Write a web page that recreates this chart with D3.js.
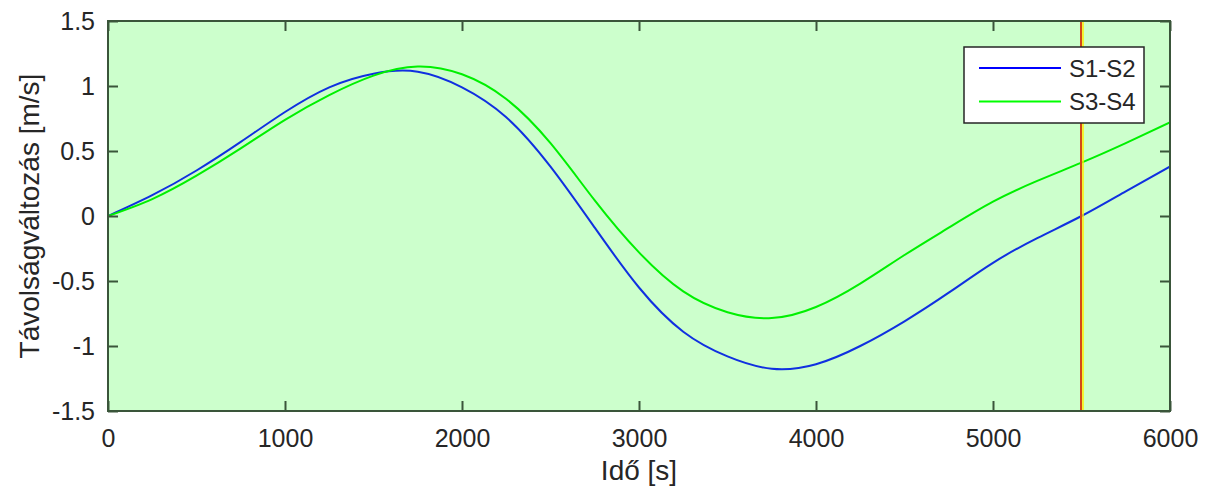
<!DOCTYPE html>
<html lang="hu">
<head>
<meta charset="UTF-8">
<title>Távolságváltozás</title>
<script src="https://cdnjs.cloudflare.com/ajax/libs/d3/7.8.5/d3.min.js"></script>
<style>
    body { margin: 0; background: #fff; }
    svg text { font-family: "Liberation Sans", Arial, sans-serif; fill: #262626; }
</style>
</head>
<body>
<div id="chart"></div>
<script>
    // time points [s]
    const timeS = [0, 250, 500, 750, 1000, 1250, 1500, 1750, 2000, 2250, 2500, 2750, 3000,
                   3250, 3500, 3750, 4000, 4250, 4500, 4750, 5000, 5250, 5500, 5750, 6000];
    // S1-S2 distance change [m/s]
    const s1s2 = [0, 0.16, 0.35, 0.57, 0.80, 0.99, 1.095, 1.11, 0.99, 0.76, 0.38, -0.09, -0.55,
                  -0.89, -1.08, -1.175, -1.14, -1.00, -0.81, -0.59, -0.36, -0.17, 0.0, 0.19, 0.38];
    // S3-S4 distance change [m/s]
    const s3s4 = [0, 0.13, 0.31, 0.52, 0.74, 0.93, 1.08, 1.15, 1.09, 0.90, 0.56, 0.12, -0.28,
                  -0.58, -0.74, -0.785, -0.70, -0.52, -0.30, -0.09, 0.11, 0.27, 0.41, 0.56, 0.72];
    const seriesNames = ["S1-S2", "S3-S4"];
    const seriesColors = ["#1030e0", "#00f000"];
    const xTicks = [0, 1000, 2000, 3000, 4000, 5000, 6000];
    const yTicks = [-1.5, -1, -0.5, 0, 0.5, 1, 1.5];
    const markerTime = 5500;

    const width = 1209, height = 495;
    const margin = { top: 21, right: 39, bottom: 84, left: 108 };
    const plotW = width - margin.left - margin.right;
    const plotH = height - margin.top - margin.bottom;

    const svg = d3.select("#chart").append("svg")
        .attr("width", width)
        .attr("height", height);

    const x = d3.scaleLinear().domain([0, 6000]).range([0, plotW]);
    const y = d3.scaleLinear().domain([-1.5, 1.5]).range([plotH, 0]);

    const g = svg.append("g").attr("transform", `translate(${margin.left},${margin.top})`);

    // background
    g.append("rect")
        .attr("width", plotW)
        .attr("height", plotH)
        .attr("fill", "#ccffcc");

    svg.append("defs").append("clipPath").attr("id", "clip")
        .append("rect").attr("width", plotW).attr("height", plotH);

    // data lines
    const line = d3.line()
        .x((d, i) => x(timeS[i]))
        .y(d => y(d))
        .curve(d3.curveNatural);

    [s1s2, s3s4].forEach((vals, k) => {
        g.append("path")
            .datum(vals)
            .attr("clip-path", "url(#clip)")
            .attr("fill", "none")
            .attr("stroke", seriesColors[k])
            .attr("stroke-width", 2)
            .attr("d", line);
    });

    // vertical marker (red + yellow)
    g.append("line")
        .attr("x1", x(markerTime) + 1.5).attr("x2", x(markerTime) + 1.5)
        .attr("y1", 0).attr("y2", plotH)
        .attr("stroke", "#ffee00").attr("stroke-width", 1.5);
    g.append("line")
        .attr("x1", x(markerTime) - 0.5).attr("x2", x(markerTime) - 0.5)
        .attr("y1", 0).attr("y2", plotH)
        .attr("stroke", "#d2481a").attr("stroke-width", 2);

    // axes with inward ticks on all four sides
    const frameColor = "#3a553a";
    const tickLen = 10;
    const numFmt = d => (d < 0 ? "-" : "") + d3.format("~g")(Math.abs(d));

    const xAxisB = d3.axisBottom(x).tickValues(xTicks).tickSizeInner(-tickLen).tickSizeOuter(0)
        .tickPadding(18).tickFormat(d3.format("d"));
    const xAxisT = d3.axisTop(x).tickValues(xTicks).tickSizeInner(-tickLen).tickSizeOuter(0).tickFormat("");
    const yAxisL = d3.axisLeft(y).tickValues(yTicks).tickSizeInner(-tickLen).tickSizeOuter(0)
        .tickPadding(13).tickFormat(numFmt);
    const yAxisR = d3.axisRight(y).tickValues(yTicks).tickSizeInner(-tickLen).tickSizeOuter(0).tickFormat("");

    function styleAxis(sel) {
        sel.select(".domain").remove();
        sel.selectAll(".tick line").attr("stroke", frameColor).attr("stroke-width", 2);
        sel.selectAll(".tick text")
            .attr("font-size", 25)
            .attr("fill", "#262626");
    }

    g.append("g").attr("transform", `translate(0,${plotH})`).call(xAxisB).call(styleAxis);
    g.append("g").call(xAxisT).call(styleAxis);
    g.append("g").call(yAxisL).call(styleAxis);
    g.append("g").attr("transform", `translate(${plotW},0)`).call(yAxisR).call(styleAxis);

    // frame
    g.append("rect")
        .attr("width", plotW)
        .attr("height", plotH)
        .attr("fill", "none")
        .attr("stroke", frameColor)
        .attr("stroke-width", 2);

    // axis labels
    svg.append("text")
        .attr("x", margin.left + plotW / 2)
        .attr("y", 480)
        .attr("text-anchor", "middle")
        .attr("font-size", 28)
        .text("Idő [s]");

    svg.append("text")
        .attr("transform", `translate(39,${margin.top + plotH / 2}) rotate(-90)`)
        .attr("text-anchor", "middle")
        .attr("font-size", 28)
        .text("Távolságváltozás [m/s]");

    // legend
    const legend = svg.append("g").attr("transform", "translate(964,47)");
    legend.append("rect")
        .attr("width", 180).attr("height", 76)
        .attr("fill", "#fff")
        .attr("stroke", "#262626")
        .attr("stroke-width", 1.5);
    seriesNames.forEach((name, i) => {
        const ly = 21 + i * 33.5;
        legend.append("line")
            .attr("x1", 15).attr("x2", 97)
            .attr("y1", ly).attr("y2", ly)
            .attr("stroke", i === 0 ? "#0000ff" : "#00ff00")
            .attr("stroke-width", 2);
        legend.append("text")
            .attr("x", 105).attr("y", ly)
            .attr("dy", "0.36em")
            .attr("font-size", 24)
            .text(name);
    });
</script>
</body>
</html>
